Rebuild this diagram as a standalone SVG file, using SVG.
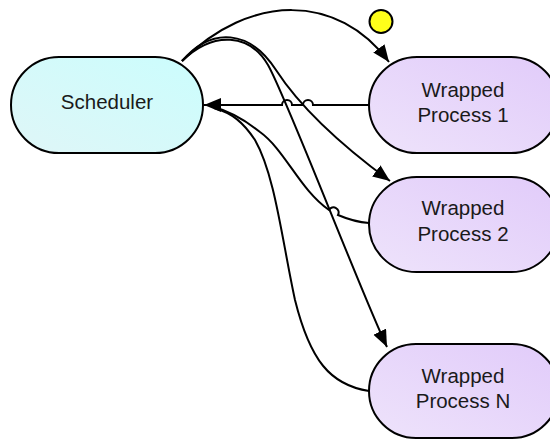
<svg xmlns="http://www.w3.org/2000/svg" width="550" height="439" viewBox="0 0 550 439">
  <defs>
    <linearGradient id="schedFill" x1="0" y1="1" x2="1" y2="0">
      <stop offset="0" stop-color="#dff6f7"/>
      <stop offset="1" stop-color="#cbfdfd"/>
    </linearGradient>
    <linearGradient id="procFill" x1="0" y1="1" x2="1" y2="0">
      <stop offset="0" stop-color="#eee3fb"/>
      <stop offset="1" stop-color="#e1cbfa"/>
    </linearGradient>
    <marker id="arrow" markerUnits="userSpaceOnUse" markerWidth="18" markerHeight="16" refX="17" refY="7" orient="auto">
      <path d="M0,0 L17,7 L0,14 z" fill="#000"/>
    </marker>
  </defs>
  <style>
    .node { stroke: #000; stroke-width: 2; }
    .edge { fill: none; stroke: #000; stroke-width: 2; }
    .label { font-family: "Liberation Sans", Arial, sans-serif; font-size: 20.5px; fill: #1a1a1a; text-anchor: middle; }
  </style>

  <rect width="550" height="439" fill="#fff"/>

  <g id="connectors">
    <!-- Scheduler to Wrapped Process 1 -->
    <path class="edge" d="M182,61 C250,-7 338,-7 389,62" marker-end="url(#arrow)"/>
    <!-- Wrapped Process 1 back to Scheduler, hopping over the crossings -->
    <path class="edge" d="M369,105 H313 A5,5 0 0 0 303,105 H292 A5,5 0 0 0 282,105 H204" marker-end="url(#arrow)"/>
    <!-- Scheduler to Wrapped Process 2 -->
    <path class="edge" d="M182,61 C212,26 250,30 276,70 S345,148 390,181" marker-end="url(#arrow)"/>
    <!-- Scheduler to Wrapped Process N -->
    <path class="edge" d="M182,61 C214,30 250,34 268,65 S360,290 387,347" marker-end="url(#arrow)"/>
    <!-- Wrapped Process 2 back to Scheduler -->
    <path class="edge" d="M369,223 C355,222 345,218 338,215 A4.5,4.5 0 0 0 329,210 C300,190 285,150 260,132 C245,120 232,112 214,107"/>
    <!-- Wrapped Process N back to Scheduler -->
    <path class="edge" d="M369,391 C330,385 310,360 295,300 C282,240 275,175 255,140 C243,122 232,113 214,108"/>
  </g>

  <g id="scheduler">
    <rect class="node" x="11" y="57" width="192" height="96" rx="48" fill="url(#schedFill)"/>
    <text class="label" x="107" y="109">Scheduler</text>
  </g>

  <g id="process1">
    <rect class="node" x="369" y="57" width="190" height="96" rx="48" fill="url(#procFill)"/>
    <text class="label" x="463" y="96.5">Wrapped</text>
    <text class="label" x="463" y="121.5">Process 1</text>
  </g>

  <g id="process2">
    <rect class="node" x="369" y="177" width="190" height="95" rx="47.5" fill="url(#procFill)"/>
    <text class="label" x="463" y="215">Wrapped</text>
    <text class="label" x="463" y="240.5">Process 2</text>
  </g>

  <g id="processN">
    <rect class="node" x="369" y="344" width="190" height="94" rx="47" fill="url(#procFill)"/>
    <text class="label" x="463" y="382.5">Wrapped</text>
    <text class="label" x="463" y="408">Process N</text>
  </g>

  <g id="indicator">
    <circle cx="381" cy="21.5" r="11.5" fill="#ffff1a" stroke="#000" stroke-width="2"/>
  </g>
</svg>
